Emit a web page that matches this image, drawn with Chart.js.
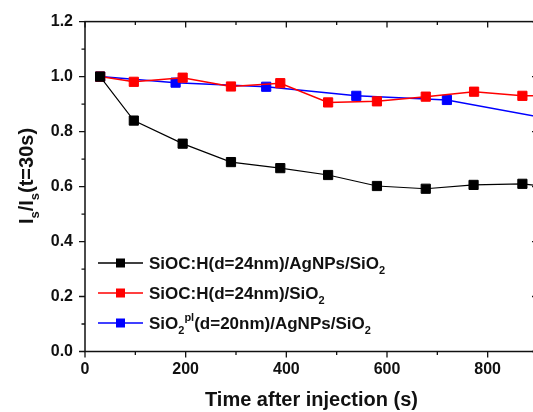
<!DOCTYPE html>
<html>
<head>
<meta charset="utf-8">
<script src="https://cdn.jsdelivr.net/npm/chart.js@4.4.1/dist/chart.umd.min.js"></script>
<style>
  html, body { margin: 0; padding: 0; overflow: hidden; background: #fff; }
  #wrap { position: relative; width: 546px; height: 412px; }
</style>
</head>
<body>
<div id="wrap"><canvas id="chart"></canvas></div>
<script>
// --- data ---
const blackTimes = [30, 97, 194, 290, 388, 483, 580, 677, 772, 869, 965];
const blackValues = [1.0, 0.84, 0.756, 0.689, 0.667, 0.642, 0.602, 0.592, 0.606, 0.61, 0.59];

const redTimes = [30, 97, 194, 290, 388, 483, 580, 677, 773, 869, 965];
const redValues = [1.0, 0.981, 0.996, 0.964, 0.976, 0.906, 0.91, 0.927, 0.945, 0.93, 0.93];

const blueTimes = [30, 180, 360, 539, 719, 905];
const blueValues = [1.0, 0.978, 0.963, 0.93, 0.915, 0.852];

const xMin = 0, xMax = 900, xStep = 100, xLabelEvery = 200;
const yMin = 0, yMax = 1.2, yStep = 0.1;

// legend text pieces (sub / sup for chemistry notation)
const legendLabels = [
  [{ t: "SiOC:H(d=24nm)/AgNPs/SiO" }, { t: "2", sub: true }],
  [{ t: "SiOC:H(d=24nm)/SiO" }, { t: "2", sub: true }],
  [{ t: "SiO" }, { t: "2", sub: true }, { t: "pl", sup: true }, { t: "(d=20nm)/AgNPs/SiO" }, { t: "2", sub: true }]
];
const seriesColors = ["#000000", "#ff0000", "#0000ff"];

const FONT = "'Liberation Sans', Arial, sans-serif";

function toPoints(xs, ys) {
  return xs.map((x, i) => ({ x: x, y: ys[i] }));
}

function drawRich(ctx, parts, x, y, size) {
  let cx = x;
  parts.forEach((p) => {
    if (p.sub || p.sup) {
      ctx.font = `bold ${Math.round(size * 0.65)}px ${FONT}`;
      const dy = p.sub ? size * 0.3 : -size * 0.5;
      ctx.fillText(p.t, cx, y + dy);
    } else {
      ctx.font = `bold ${size}px ${FONT}`;
      ctx.fillText(p.t, cx, y);
    }
    cx += ctx.measureText(p.t).width;
  });
  return cx - x;
}

// frame + Origin-style ticks (out on left/bottom, in on top/right)
const frameTicks = {
  id: "frameTicks",
  afterDraw(chart) {
    const { ctx, chartArea: a } = chart;
    const xs = chart.scales.x, ys = chart.scales.y;
    ctx.save();
    ctx.strokeStyle = "#111";
    ctx.lineWidth = 1.5;
    ctx.strokeRect(a.left, a.top, a.right - a.left, a.bottom - a.top);
    ctx.lineWidth = 1.3;
    ctx.beginPath();
    xs.ticks.forEach((t) => {
      const px = xs.getPixelForValue(t.value);
      const len = Math.round(t.value) % xLabelEvery === 0 ? 6 : 3.5;
      ctx.moveTo(px, a.bottom); ctx.lineTo(px, a.bottom + len);
      ctx.moveTo(px, a.top); ctx.lineTo(px, a.top + len);
    });
    ys.ticks.forEach((t) => {
      const py = ys.getPixelForValue(t.value);
      const len = Math.round(t.value * 10) % 2 === 0 ? 6 : 3.5;
      ctx.moveTo(a.left, py); ctx.lineTo(a.left - len, py);
      ctx.moveTo(a.right, py); ctx.lineTo(a.right - len, py);
    });
    ctx.stroke();

    // y axis title with subscripts
    ctx.fillStyle = "#111";
    ctx.textBaseline = "alphabetic";
    ctx.translate(33, 176);
    ctx.rotate(-Math.PI / 2);
    const yParts = [{ t: "I" }, { t: "s", sub: true }, { t: "/I" }, { t: "s", sub: true }, { t: "(t=30s)" }];
    ctx.globalAlpha = 0;
    const w = drawRich(ctx, yParts, 0, 0, 20);
    ctx.globalAlpha = 1;
    drawRich(ctx, yParts, -w / 2, 0, 20);
    ctx.restore();
  }
};

// legend: short line with a square marker, then rich text
const richLegend = {
  id: "richLegend",
  afterDatasetsDraw(chart) {
    const { ctx } = chart;
    ctx.save();
    legendLabels.forEach((parts, i) => {
      const y = 263 + i * 30;
      ctx.strokeStyle = seriesColors[i];
      ctx.lineWidth = 1.5;
      ctx.beginPath();
      ctx.moveTo(98, y); ctx.lineTo(143, y);
      ctx.stroke();
      ctx.fillStyle = seriesColors[i];
      ctx.fillRect(116, y - 4.5, 9, 9);
      ctx.fillStyle = "#111";
      ctx.textBaseline = "alphabetic";
      drawRich(ctx, parts, 149, y + 6, 17);
    });
    ctx.restore();
  }
};

function makeSet(xs, ys, color, width) {
  return {
    data: toPoints(xs, ys),
    borderColor: color,
    backgroundColor: color,
    borderWidth: width,
    pointStyle: "rect",
    pointRadius: 6.5,
    pointBorderWidth: 1,
    pointBorderColor: color,
    pointBackgroundColor: color,
    tension: 0
  };
}

new Chart(document.getElementById("chart"), {
  type: "line",
  data: {
    datasets: [
      makeSet(blackTimes, blackValues, seriesColors[0], 1.2),
      makeSet(redTimes, redValues, seriesColors[1], 1.5),
      makeSet(blueTimes, blueValues, seriesColors[2], 1.5)
    ]
  },
  options: {
    responsive: true,
    maintainAspectRatio: false,
    animation: false,
    layout: { padding: { left: 0, top: 18, right: 6.5, bottom: 0 } },
    plugins: {
      legend: { display: false },
      tooltip: { enabled: false }
    },
    scales: {
      x: {
        type: "linear",
        min: xMin,
        max: xMax,
        grid: { display: false, drawTicks: false },
        border: { display: false },
        ticks: {
          stepSize: xStep,
          autoSkip: false,
          maxRotation: 0,
          padding: 8,
          color: "#111",
          font: { family: FONT, size: 16, weight: "bold" },
          callback: (v) => (Math.round(v) % xLabelEvery === 0 ? String(Math.round(v)) : "")
        },
        title: {
          display: true,
          text: "Time after injection (s)",
          color: "#111",
          font: { family: FONT, size: 20, weight: "bold" },
          padding: { top: 0, bottom: 0 }
        },
        afterFit: (scale) => { scale.height = 60.5; }
      },
      y: {
        min: yMin,
        max: yMax,
        grid: { display: false, drawTicks: false },
        border: { display: false },
        ticks: {
          stepSize: yStep,
          autoSkip: false,
          padding: 12,
          color: "#111",
          font: { family: FONT, size: 16, weight: "bold" },
          callback: (v) => (Math.round(v * 10) % 2 === 0 ? v.toFixed(1) : "")
        },
        afterFit: (scale) => { scale.width = 85; }
      }
    }
  },
  plugins: [frameTicks, richLegend]
});
</script>
</body>
</html>
